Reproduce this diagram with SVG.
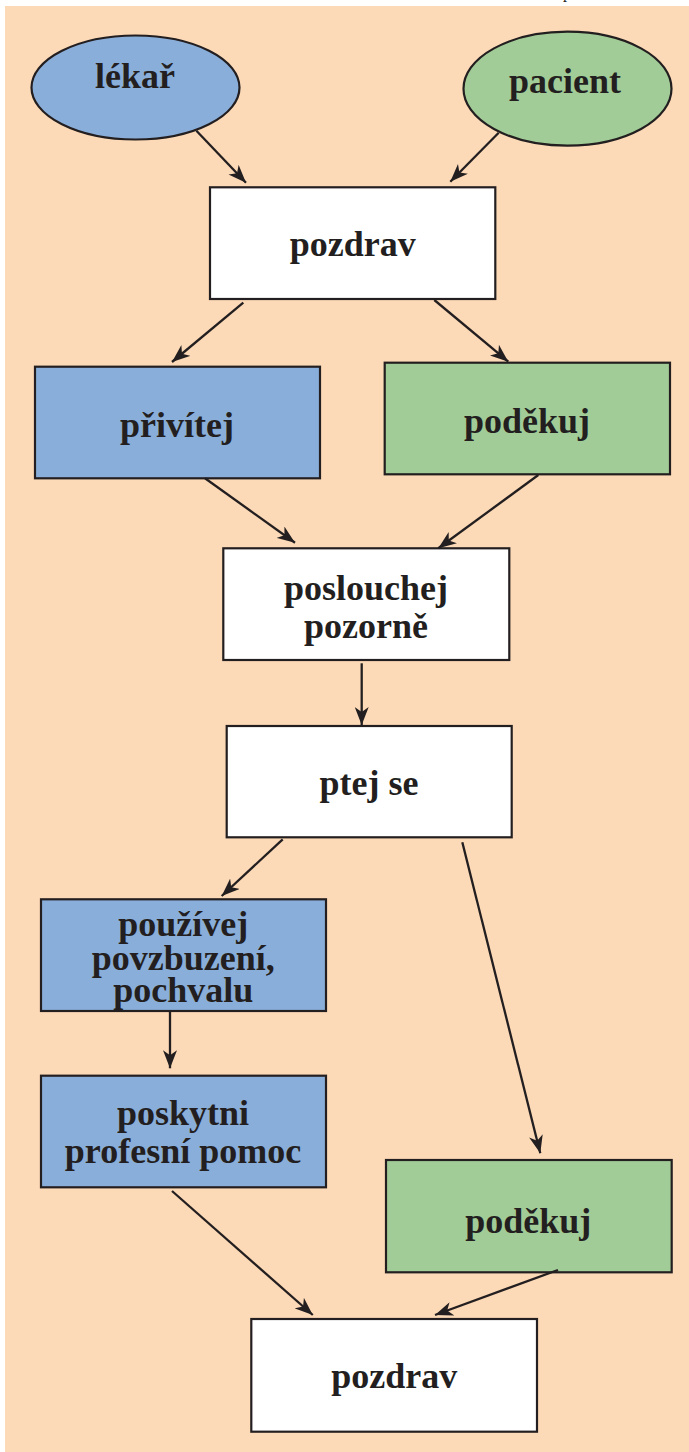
<svg xmlns="http://www.w3.org/2000/svg" width="689" height="1452" viewBox="0 0 689 1452">
<style>
.node{stroke:#231F20;stroke-width:2.2}
.blue{fill:#8AAEDA}
.green{fill:#A2CC97}
.white{fill:#FFFFFF}
.lbl{font-family:"Liberation Serif","Times New Roman",serif;font-weight:bold;font-size:36px;fill:#231F20;text-anchor:middle}
.edge{stroke:#231F20;stroke-width:2.3;fill:none;marker-end:url(#arr)}
</style>
<defs>
<marker id="arr" viewBox="0 0 18 14" refX="18" refY="7" markerWidth="18" markerHeight="14" markerUnits="userSpaceOnUse" orient="auto">
<path d="M0,0 L18,7 L0,14 L5,7 Z" fill="#231F20"/>
</marker>
</defs>
<rect x="0" y="0" width="689" height="1452" fill="#FFFFFF"/>
<rect x="5" y="6" width="684" height="1446" fill="#FDDAB7"/>
<text x="563" y="-2" style="font-family:'Liberation Serif',serif;font-size:16px;fill:#231F20">p</text>

<g id="lekar"><ellipse class="node blue" cx="135.5" cy="87.5" rx="104" ry="52"/><text class="lbl" x="135" y="88">lékař</text></g>
<g id="pacient"><ellipse class="node green" cx="567.5" cy="88.7" rx="104" ry="57"/><text class="lbl" x="565" y="93">pacient</text></g>
<g id="pozdrav1"><rect class="node white" x="210" y="187.3" width="285.3" height="111.7"/><text class="lbl" x="352.7" y="256">pozdrav</text></g>
<g id="privitej"><rect class="node blue" x="35" y="366.7" width="285" height="111.6"/><text class="lbl" x="177" y="437">přivítej</text></g>
<g id="podekuj1"><rect class="node green" x="384.7" y="362.7" width="285.3" height="111.6"/><text class="lbl" x="527" y="433">poděkuj</text></g>
<g id="poslouchej"><rect class="node white" x="223.3" y="548.3" width="286" height="111.7"/><text class="lbl" x="366" y="600">poslouchej</text><text class="lbl" x="366" y="638">pozorně</text></g>
<g id="ptejse"><rect class="node white" x="226.7" y="726" width="285" height="111.3"/><text class="lbl" x="369" y="795">ptej se</text></g>
<g id="pouzivej"><rect class="node blue" x="41" y="899.3" width="285" height="111.7"/><text class="lbl" x="183.3" y="936">používej</text><text class="lbl" x="183.3" y="970">povzbuzení,</text><text class="lbl" x="183.3" y="1002">pochvalu</text></g>
<g id="poskytni"><rect class="node blue" x="41" y="1075.7" width="285" height="111.6"/><text class="lbl" x="183" y="1125">poskytni</text><text class="lbl" x="183" y="1163">profesní pomoc</text></g>
<g id="podekuj2"><rect class="node green" x="386" y="1160" width="285.7" height="112.3"/><text class="lbl" x="528.2" y="1233">poděkuj</text></g>
<g id="pozdrav2"><rect class="node white" x="251.3" y="1319" width="285.7" height="112.7"/><text class="lbl" x="394.3" y="1388">pozdrav</text></g>

<g id="connectors">
<line class="edge" x1="196.4" y1="130.7" x2="246" y2="182.7"/>
<line class="edge" x1="498.7" y1="132.7" x2="450.3" y2="181.7"/>
<line class="edge" x1="243.3" y1="302.7" x2="172" y2="362"/>
<line class="edge" x1="434.3" y1="300" x2="508.3" y2="361.7"/>
<line class="edge" x1="205" y1="478.3" x2="295" y2="542.7"/>
<line class="edge" x1="538.3" y1="475" x2="438.3" y2="548.3"/>
<line class="edge" x1="361.7" y1="663.3" x2="361.7" y2="725"/>
<line class="edge" x1="282.7" y1="839.3" x2="221.7" y2="896"/>
<line class="edge" x1="462.3" y1="842.3" x2="540.3" y2="1153.3"/>
<line class="edge" x1="170" y1="1011" x2="170" y2="1068.3"/>
<line class="edge" x1="172" y1="1191" x2="312.8" y2="1315"/>
<line class="edge" x1="558" y1="1270" x2="435" y2="1315"/>
</g>
</svg>
